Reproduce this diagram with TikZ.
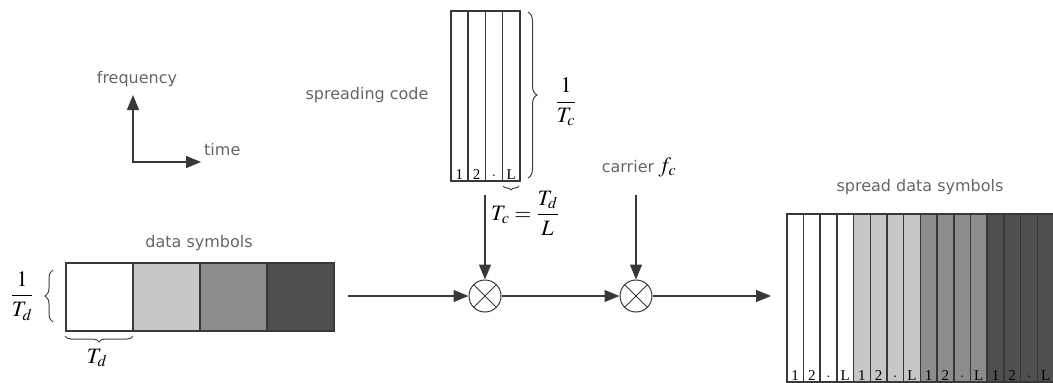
\documentclass[tikz,border=0pt]{standalone}
\usepackage{mathptmx}
\usepackage{fontspec}
\setmainfont{Liberation Serif}
\newfontfamily\labelfont{DejaVu Sans}
\usetikzlibrary{arrows.meta,decorations.pathreplacing}
\definecolor{symA}{gray}{1}
\definecolor{symB}{gray}{0.78}
\definecolor{symC}{gray}{0.55}
\definecolor{symD}{gray}{0.31}
\definecolor{linegray}{gray}{0.22}
\definecolor{textgray}{gray}{0.4}

\begin{document}
\begin{tikzpicture}[
    x=1pt, y=-1pt,
    txt/.style={font=\labelfont\fontsize{16}{19}\selectfont, text=textgray, inner sep=0pt},
    mathtxt/.style={font=\fontsize{22}{26}\selectfont, inner sep=0pt},
    cell/.style={draw=linegray, line width=1.5pt, anchor=north west, inner sep=0pt},
    cellnum/.style={anchor=south, font=\fontsize{15}{17}\selectfont, inner sep=2pt},
    mult/.style={circle, draw=linegray, line width=1pt, minimum size=32pt, inner sep=0pt},
    arrow/.style={-{Triangle[length=15pt,width=12pt]}, line width=1.3pt, draw=linegray},
    axis/.style={{Triangle[length=15pt,width=12pt]}-{Triangle[length=15pt,width=12pt]}, line width=1.3pt, draw=linegray},
    brace/.style={decorate, decoration={brace, amplitude=#1}, line width=1pt, draw=gray!50!black}
]

% Bounding box
\useasboundingbox (0,0) rectangle (1053,383);

% Time / frequency axes
\coordinate (freqtip) at (133,95);
\coordinate (origin) at (133,162);
\coordinate (timetip) at (201,162);
\draw[axis] (freqtip) -- (origin) -- (timetip);
\node[txt] (freq) at (137,79) {frequency};
\node[txt, anchor=west] (time) at (204,150) {time};

% Spreading code
\foreach \i/\lab in {1/1,2/2,3/$\cdot$,4/L} {
  \node[cell, minimum width=17.3pt, minimum height=170pt] (c\i) at ({450+(\i-1)*17.3},10) {};
  \node[cellnum] (cl\i) at (c\i.south) {\lab};
}
\node[txt] (codelabel) at (367,95) {spreading code};
\draw[brace=9pt] (528,12) -- (528,178);
\node[mathtxt] (fcinv) at (566,102) {$\displaystyle\frac{1}{T_c}$};
\draw[brace=4pt] (519,186) -- (503,186);
\node[mathtxt, anchor=west] (tcdef) at (491,213) {$\displaystyle T_c=\frac{T_d}{L}$};

% Data symbols
\foreach \i/\col in {1/symA,2/symB,3/symC,4/symD}
  \node[cell, fill=\col, minimum width=67pt, minimum height=68pt] (d\i) at ({65+(\i-1)*67},262) {};
\node[txt] (datalabel) at (199,243) {data symbols};
\draw[brace=8pt] (53,322) -- (53,270);
\node[mathtxt] (fdinv) at (22,296) {$\displaystyle\frac{1}{T_d}$};
\draw[brace=6pt] (133,336) -- (65,336);
\node[mathtxt] (tdlabel) at (97,358) {$T_d$};

% Spread data symbols
\foreach \g/\col in {0/symA,1/symB,2/symC,3/symD}
  \foreach \k/\lab in {1/1,2/2,3/$\cdot$,4/L} {
    \node[cell, fill=\col, minimum width=16.7pt, minimum height=168pt] (s\g\k) at ({786+(4*\g+\k-1)*16.7},213) {};
    \node[cellnum] (sl\g\k) at (s\g\k.south) {\lab};
  }
\node[txt] (spreadlabel) at (920,187) {spread data symbols};

% Multipliers
\node[mult] (m1) at (485,296) {};
\draw[linegray, line width=0.8pt] (m1.north west) -- (m1.south east) (m1.north east) -- (m1.south west);
\node[mult] (m2) at (636,296) {};
\draw[linegray, line width=0.8pt] (m2.north west) -- (m2.south east) (m2.north east) -- (m2.south west);

% Carrier
\node[txt] (carrier) at (628,167) {carrier};
\node[mathtxt, anchor=west] (carrierf) at ([xshift=4pt]carrier.east) {$f_c$};

% Signal flow
\coordinate (dataout) at (348,296);
\coordinate (codeout) at (485,195);
\coordinate (carrierout) at (636,195);
\coordinate (spreadin) at (771,296);
\draw[arrow] (dataout) -- (m1.west);
\draw[arrow] (codeout) -- (m1.north);
\draw[arrow] (m1.east) -- (m2.west);
\draw[arrow] (carrierout) -- (m2.north);
\draw[arrow] (m2.east) -- (spreadin);

\end{tikzpicture}
\end{document}
